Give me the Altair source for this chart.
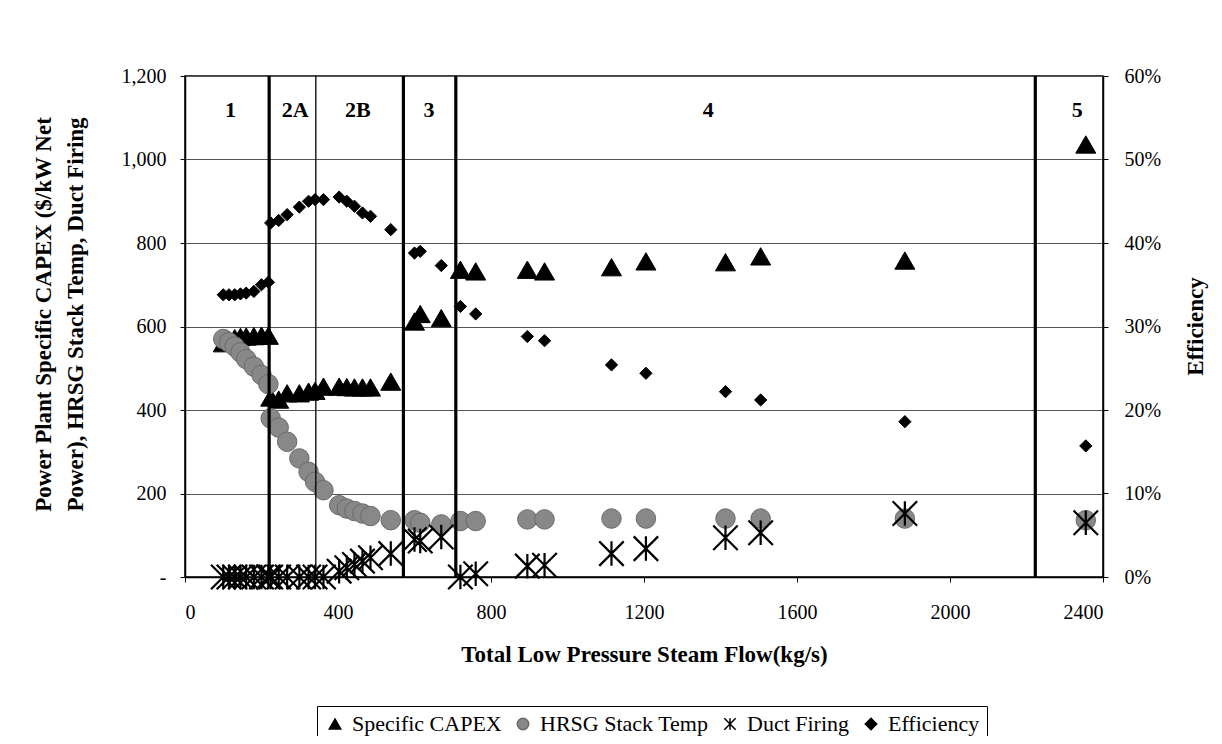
import altair as alt
import pandas as pd

# ---- data ----
flow = [100, 115, 130, 145, 160, 180, 200, 218,
        224, 245, 267, 299, 323, 340, 362, 403, 423, 443, 464, 485, 538,
        600, 615, 670,
        720, 760, 895, 940, 1115, 1205, 1413, 1505, 1882,
        2355]
capex = [560, 568, 572, 575, 576, 577, 578, 578,
         430, 425, 440, 440, 444, 446, 456, 456, 455, 454, 454, 454, 468,
         612, 630, 620,
         736, 732, 736, 732, 742, 756, 754, 768, 758,
         1036]
hrsg = [570, 562, 552, 538, 522, 504, 484, 462,
        380, 358, 324, 284, 252, 228, 208, 172, 164, 158, 152, 146, 136,
        136, 130, 126,
        134, 134, 138, 138, 140, 140, 140, 140, 140,
        136]
duct = [0, 0, 0, 0, 0, 0, 0, 0,
        0, 0, 0, 0, 0, 0, 0, 14, 22, 30, 38, 46, 56,
        90, 86, 96,
        0, 8, 26, 28, 56, 68, 94, 106, 152,
        130]
eff = [0.338, 0.338, 0.338, 0.339, 0.340, 0.342, 0.350, 0.353,
       0.424, 0.427, 0.434, 0.443, 0.450, 0.452, 0.452, 0.455, 0.450, 0.444, 0.436, 0.432, 0.416,
       0.388, 0.390, 0.373,
       0.324, 0.315, 0.288, 0.283, 0.254, 0.244, 0.222, 0.212, 0.186,
       0.157]

series_names = ["Specific CAPEX", "HRSG Stack Temp", "Duct Firing", "Efficiency"]

boundary_x = [220, 342, 571, 708, 2223]
boundary_w = [3.2, 1.3, 3.2, 3.2, 3.2]

region_labels = ["1", "2A", "2B", "3", "4", "5"]
region_x = [119, 288, 452, 638, 1368, 2333]
region_y = [1118, 1118, 1118, 1118, 1118, 1118]

x_ticks = [0, 400, 800, 1200, 1600, 2000, 2400]
y_ticks = [0, 200, 400, 600, 800, 1000, 1200]
eff_ticks = [0, 0.1, 0.2, 0.3, 0.4, 0.5, 0.6]

# ---- tables ----
df_capex = pd.DataFrame({"flow": flow, "value": capex, "series": series_names[0]})
df_hrsg = pd.DataFrame({"flow": flow, "value": hrsg, "series": series_names[1]})
df_duct = pd.DataFrame({"flow": flow, "value": duct, "series": series_names[2]})
df_eff = pd.DataFrame({"flow": flow, "eff": eff, "series": series_names[3]})
df_bound = pd.DataFrame({"bx": boundary_x, "bw": boundary_w})
df_regions = pd.DataFrame({"lx": region_x, "value": region_y, "label": region_labels})

SERIF = "Liberation Serif"
STAR = "M-1,-1L1,1M-1,1L1,-1M0,-1L0,1"

x_enc = alt.X("flow:Q", scale=alt.Scale(domain=[0, 2400], nice=False),
              axis=alt.Axis(values=x_ticks, title="Total Low Pressure Steam Flow(kg/s)",
                            grid=False, labelPadding=20, titleY=77,
                            titleBaseline="middle", format="d"))

left_axis = alt.Axis(orient="left", values=y_ticks,
                     labelExpr="datum.value == 0 ? '-' : format(datum.value, ',')",
                     title=["Power Plant Specific CAPEX ($/kW Net", "Power), HRSG Stack Temp, Duct Firing"],
                     titleAngle=270, titleX=-142, titleY=238, titleAlign="center",
                     titleBaseline="middle", titleLineHeight=32,
                     grid=True, gridColor="#555555", gridWidth=1, labelPadding=14)
y_left = alt.Y("value:Q", scale=alt.Scale(domain=[0, 1200], nice=False), axis=left_axis)

right_axis = alt.Axis(orient="right", values=eff_ticks, format=".0%", title="Efficiency",
                      titleAngle=270, titleX=92, titleY=250, titleAlign="center",
                      titleBaseline="middle", grid=False, labelPadding=16)
y_right = alt.Y("eff:Q", scale=alt.Scale(domain=[0, 0.6], nice=False), axis=right_axis)

leg = alt.Legend(title=None, orient="none", legendX=132, legendY=630, direction="horizontal",
                 strokeColor="black", fillColor="white", padding=7,
                 labelFont=SERIF, labelFontSize=22, labelColor="black", labelLimit=0,
                 symbolSize=130, symbolStrokeWidth=1.5, columnPadding=10, labelOffset=6)

shape_enc = alt.Shape("series:N", scale=alt.Scale(domain=series_names,
                      range=["triangle-up", "circle", STAR, "diamond"]), legend=leg)
fill_enc = alt.Fill("series:N", scale=alt.Scale(domain=series_names,
                    range=["#000000", "#888888", "transparent", "#000000"]), legend=leg)
stroke_enc = alt.Stroke("series:N", scale=alt.Scale(domain=series_names,
                        range=["#000000", "#6a6a6a", "#000000", "#000000"]), legend=leg)


def pts(df, size, sw, y):
    return alt.Chart(df).mark_point(size=size, strokeWidth=sw, opacity=1).encode(
        x=x_enc, y=y, shape=shape_enc, fill=fill_enc, stroke=stroke_enc)


capex_layer = pts(df_capex, 400, 1, y_left)
hrsg_layer = pts(df_hrsg, 380, 1, y_left)
duct_layer = pts(df_duct, 600, 2.2, y_left)
eff_layer = pts(df_eff, 150, 1, y_right)

labels_layer = alt.Chart(df_regions).mark_text(
    font=SERIF, fontSize=22, fontWeight="bold", color="black", align="center", baseline="middle"
).encode(x=alt.X("lx:Q"), y=y_left, text="label:N")

rules = alt.Chart(df_bound).mark_rule(color="black").encode(
    x=alt.X("bx:Q"), strokeWidth=alt.StrokeWidth("bw:Q", scale=None))

left = alt.layer(capex_layer, hrsg_layer, duct_layer, labels_layer)

chart = alt.layer(left, eff_layer, rules).resolve_scale(y="independent").properties(
    width=918, height=501,
    autosize=alt.AutoSizeParams(type="none"),
    padding={"left": 177, "top": 68, "right": 111, "bottom": 159},
    background="white",
).configure_view(stroke="black", strokeWidth=1.5).configure_axis(
    labelFont=SERIF, labelFontSize=20, labelColor="black",
    titleFont=SERIF, titleFontSize=23, titleFontWeight="bold", titleColor="black",
    tickColor="black", domainColor="black", tickSize=5, domainWidth=1.5
)

chart.save("out.html", embed_options={"renderer": "svg", "actions": False})
